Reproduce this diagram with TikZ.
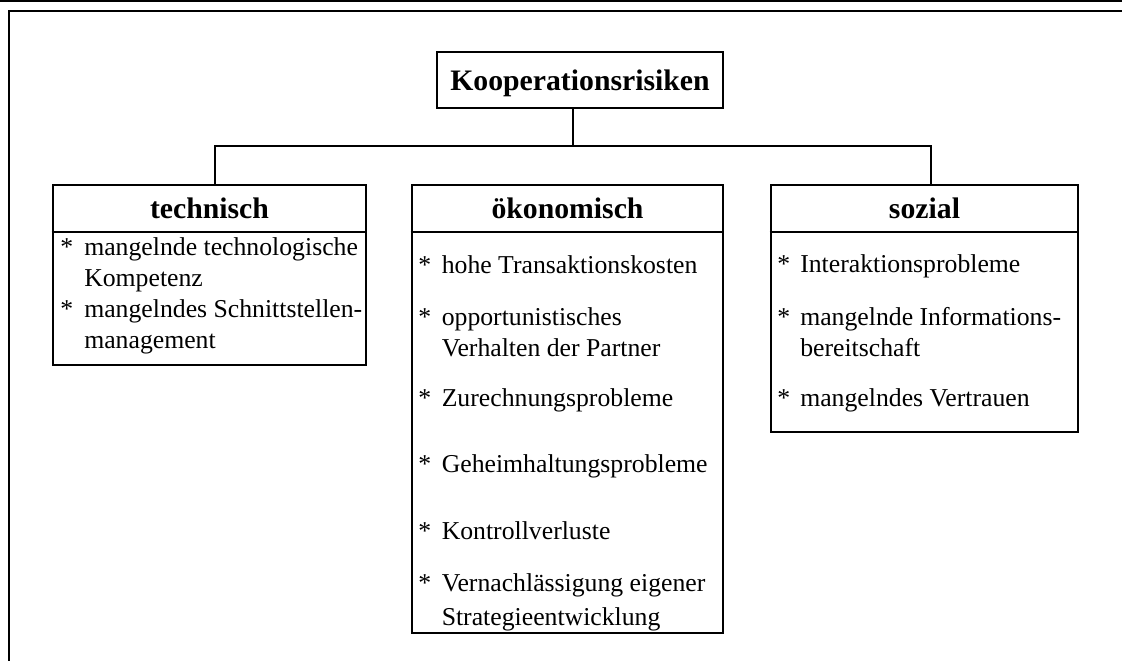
\documentclass[tikz,border=0pt]{standalone}
\usepackage{fontspec}
\setmainfont{Liberation Serif}
\begin{document}
\begin{tikzpicture}[x=0.75pt,y=-0.75pt,
  box/.style={draw, line width=2pt, rectangle, inner sep=0pt},
  head/.style={font=\bfseries\fontsize{22.3}{26}\selectfont, anchor=base, inner sep=0pt},
  item/.style={font=\fontsize{19.3}{23}\selectfont, anchor=base west, inner sep=0pt},
  conn/.style={line width=2pt, line join=miter}]
\useasboundingbox (0,0) rectangle (1122,661);
% frame
\draw[line width=1.6pt] (0,1) -- (1122,1);
\draw[line width=1.6pt, line join=miter] (9,661) -- (9,11) -- (1122,11);
% boxes
\node[box, minimum width=214.5pt, minimum height=42pt] (title) at (580,80) {};
\node[head] (titletxt) at (580,90) {Kooperationsrisiken};
\node[box, minimum width=234.75pt, minimum height=135pt] (tech) at (209.5,275) {};
\node[box, minimum width=233.25pt, minimum height=336pt] (oek) at (567.5,409) {};
\node[box, minimum width=230.25pt, minimum height=185.25pt] (soz) at (924.5,308.5) {};
% headings
\node[head] (techh) at (209.5,218) {technisch};
\node[head] (oekh) at (567.5,218) {ökonomisch};
\node[head] (sozh) at (924.5,218) {sozial};
% separators
\coordinate (sepy) at (0,232);
\draw[conn] (tech.west |- sepy) -- (tech.east |- sepy);
\draw[conn] (oek.west |- sepy) -- (oek.east |- sepy);
\draw[conn] (soz.west |- sepy) -- (soz.east |- sepy);
% connectors
\coordinate (hl) at (215,146);
\coordinate (hc) at (573,146);
\coordinate (hr) at (931,146);
\draw[conn] (hc |- title.south) -- (hc);
\draw[conn] (tech.north -| hl) -- (hl) -- (hr) -- (soz.north -| hr);
% technisch items
\node[item] (t1s) at (60,255) {*};
\node[item] (t1a) at (84,255) {mangelnde technologische};
\node[item] (t1b) at (84,286) {Kompetenz};
\node[item] (t2s) at (60,317) {*};
\node[item] (t2a) at (84,317) {mangelndes Schnittstellen-};
\node[item] (t2b) at (84,348) {management};
% oekonomisch items
\node[item] (o1s) at (418,273) {*};
\node[item] (o1a) at (441.5,273) {hohe Transaktionskosten};
\node[item] (o2s) at (418,325) {*};
\node[item] (o2a) at (441.5,325) {opportunistisches};
\node[item] (o2b) at (441.5,356.7) {Verhalten der Partner};
\node[item] (o3s) at (418,406) {*};
\node[item] (o3a) at (441.5,406) {Zurechnungsprobleme};
\node[item] (o4s) at (418,472.7) {*};
\node[item] (o4a) at (441.5,472.7) {Geheimhaltungsprobleme};
\node[item] (o5s) at (418,539.3) {*};
\node[item] (o5a) at (441.5,539.3) {Kontrollverluste};
\node[item] (o6s) at (418,591.7) {*};
\node[item] (o6a) at (441.5,591.7) {Vernachlässigung eigener};
\node[item] (o6b) at (441.5,625) {Strategieentwicklung};
% sozial items
\node[item] (s1s) at (777,272.7) {*};
\node[item] (s1a) at (800,272.7) {Interaktionsprobleme};
\node[item] (s2s) at (777,325) {*};
\node[item] (s2a) at (800,325) {mangelnde Informations-};
\node[item] (s2b) at (800,356.7) {bereitschaft};
\node[item] (s3s) at (777,406) {*};
\node[item] (s3a) at (800,406) {mangelndes Vertrauen};
\end{tikzpicture}
\end{document}
